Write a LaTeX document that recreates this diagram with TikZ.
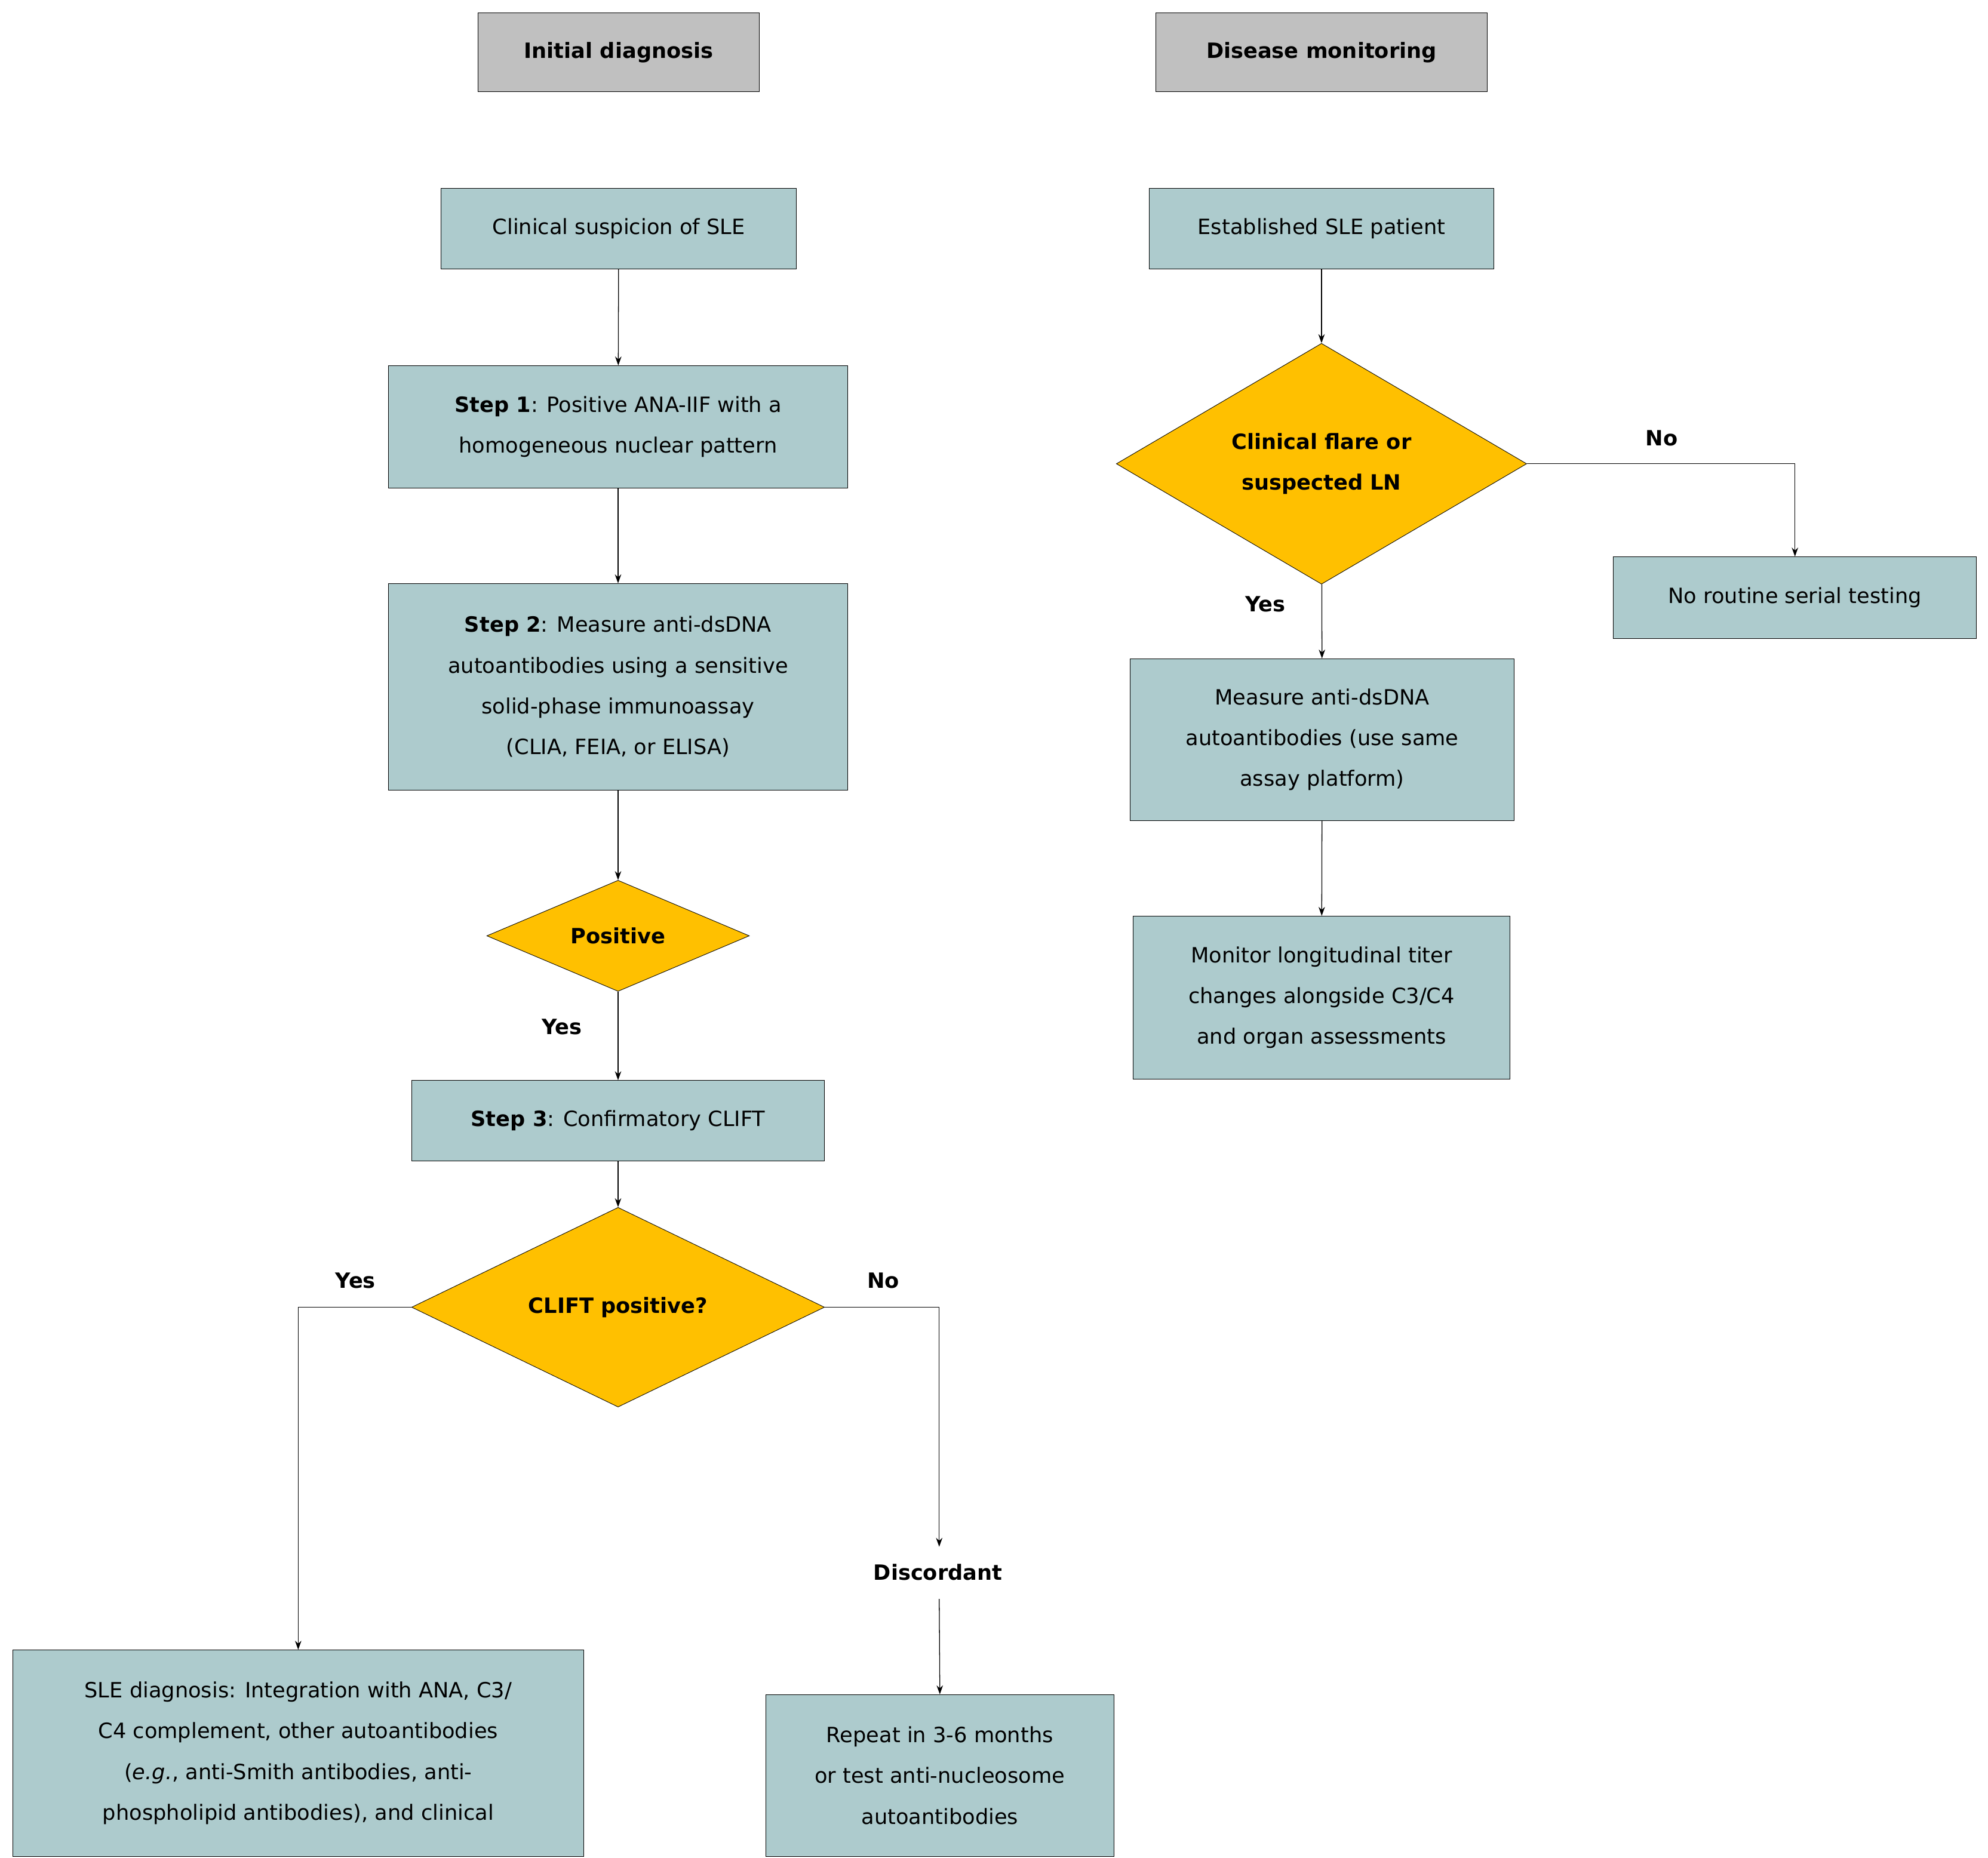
\documentclass[tikz,border=0pt]{standalone}
\usepackage{fontspec}
\setmainfont{DejaVu Sans}
\usetikzlibrary{shapes.geometric,arrows.meta}
\begin{document}
\begin{tikzpicture}[x=1pt,y=-1pt,
  font=\fontsize{16.5}{32}\selectfont,
  box/.style={draw,fill=boxc,align=center,inner sep=0,anchor=center},
  hdr/.style={draw,fill=hdrc,align=center,inner sep=0,font=\fontsize{16.5}{32}\selectfont\bfseries},
  dec/.style={draw,fill=decc,shape=diamond,inner sep=0,align=center,font=\fontsize{16.5}{32}\selectfont\bfseries},
  lbl/.style={font=\fontsize{16.5}{32}\selectfont\bfseries},
  arr/.style={-{Stealth[length=7pt,width=5pt]},line width=0.6pt},
  ln/.style={line width=0.6pt}]
\definecolor{boxc}{HTML}{ADCBCD}
\definecolor{hdrc}{HTML}{C0C0C0}
\definecolor{decc}{HTML}{FFC000}
\useasboundingbox (0,0) rectangle (1560,1458);
\node[hdr,minimum width=221,minimum height=62] (h1) at (485.5,41) {Initial diagnosis};
\node[hdr,minimum width=260,minimum height=62] (h2) at (1037,41) {Disease monitoring};
\node[box,minimum width=279,minimum height=63] (cs) at (485.5,179.5) {Clinical suspicion of SLE};
\node[box,minimum width=360,minimum height=96] (s1) at (485,335) {\textbf{Step 1}: Positive ANA-IIF with a\\homogeneous nuclear pattern};
\node[box,minimum width=360,minimum height=162] (s2) at (485,539) {\textbf{Step 2}: Measure anti-dsDNA\\autoantibodies using a sensitive\\solid-phase immunoassay\\(CLIA, FEIA, or ELISA)};
\node[dec,minimum width=206,minimum height=77] (pos) at (485,734.5) {Positive};
\node[lbl] (y1) at (441,806) {Yes};
\node[box,minimum width=324,minimum height=63] (s3) at (485,879.5) {\textbf{Step 3}: Confirmatory CLIFT};
\node[dec,minimum width=324,minimum height=76] (cl) at (485,1026) {CLIFT positive?};
\node[lbl] (y2) at (279,1005) {Yes};
\node[lbl] (n2) at (693,1005) {No};
\node[lbl] (dis) at (736,1234) {Discordant};
\node[box,minimum width=448,minimum height=162] (sle) at (234,1376) {SLE diagnosis: Integration with ANA, C3/\\C4 complement, other autoantibodies\\(\textit{e.g.}, anti-Smith antibodies, anti-\\phospholipid antibodies), and clinical};
\node[box,minimum width=273,minimum height=127] (rep) at (737.5,1393.5) {Repeat in 3-6 months\\or test anti-nucleosome\\autoantibodies};
\node[box,minimum width=270,minimum height=63] (es) at (1037,179.5) {Established SLE patient};
\node[dec,minimum width=322,minimum height=154] (fl) at (1037,364) {Clinical flare or\\suspected LN};
\node[lbl] (n3) at (1304,344) {No};
\node[lbl] (y3) at (993,474) {Yes};
\node[box,minimum width=285,minimum height=64] (nr) at (1408.5,469) {No routine serial testing};
\node[box,minimum width=301,minimum height=127] (me) at (1037.5,580.5) {Measure anti-dsDNA\\autoantibodies (use same\\assay platform)};
\node[box,minimum width=296,minimum height=128] (mo) at (1037,783) {Monitor longitudinal titer\\changes alongside C3/C4\\and organ assessments};
\draw[arr] (cs) -- (s1);
\draw[arr] (s1) -- (s2);
\draw[arr] (s2) -- (pos);
\draw[arr] (pos) -- (s3);
\draw[arr] (s3) -- (cl);
\draw[arr] (cl.west) -| (sle.north);
\coordinate (dt) at (737,1214);
\draw[arr] (cl.east) -| (dt);
\draw[arr] (737,1255) -- (rep.north);
\draw[arr] (es) -- (fl);
\draw[arr] (fl.east) -| (nr.north);
\draw[arr] (fl) -- (me);
\draw[arr] (me) -- (mo);
\end{tikzpicture}
\end{document}
